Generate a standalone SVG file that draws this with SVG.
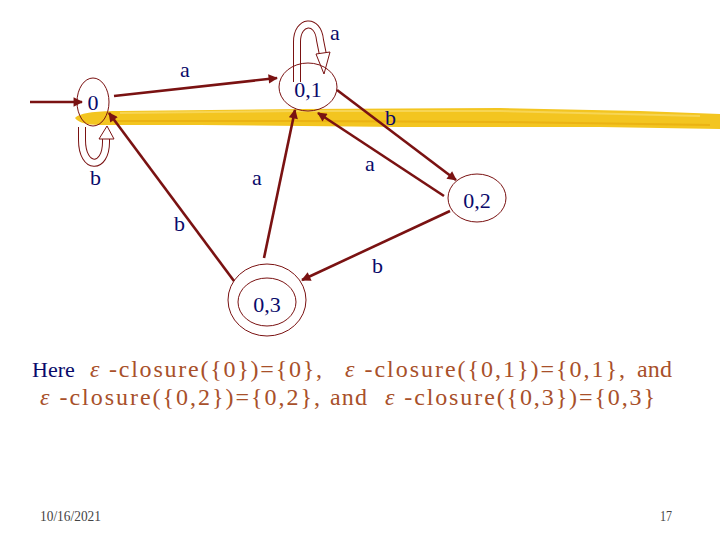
<svg xmlns="http://www.w3.org/2000/svg" width="720" height="540" viewBox="0 0 720 540">
<defs>
<marker id="ah" viewBox="0 0 10 10" refX="9" refY="5" markerWidth="4" markerHeight="3.6" orient="auto" markerUnits="strokeWidth">
<path d="M0,0 L10,5 L0,10 Z" fill="#7a1212"/>
</marker>
</defs>
<style>
.edge{stroke:#7a1212;stroke-width:2.6;fill:none;marker-end:url(#ah)}
.node{fill:none;stroke:#7a1212;stroke-width:1}
.lbl{font-family:"Liberation Serif",serif;font-size:22px;fill:#0a0a6a}
.nl{font-family:"Liberation Serif",serif;font-size:22px;fill:#0a0a6a;text-anchor:middle}
.eq{font-family:"Liberation Serif",serif;font-size:24px;fill:#a8502a}
.ep{font-style:italic}
.ft{font-family:"Liberation Serif",serif;font-size:14px;fill:#444}
.band{fill:none;stroke:#7a1212;stroke-width:8;stroke-linejoin:round}
.bandin{fill:none;stroke:#fff;stroke-width:6;stroke-linejoin:round}
.hh{fill:#fff;stroke:#7a1212;stroke-width:1}
</style>
<rect width="720" height="540" fill="#fff"/>
<g id="brush">
<path d="M75,118 C80,112 100,111 120,111 L300,109 L500,108 L640,111 L720,114 L720,129 L600,127 L400,127 L200,125 L100,125 C85,125 78,122 75,118 Z" fill="#f3c520"/>
<path d="M120,113 L300,111 L500,111 L700,116" stroke="#f8d860" stroke-width="2" fill="none" opacity="0.8"/>
<path d="M110,121 L300,121 L500,122 L710,125" stroke="#e8ae10" stroke-width="2" fill="none" opacity="0.8"/>
</g>
<g id="connectors">
<line class="edge" x1="30" y1="102" x2="82" y2="102"/>
<line class="edge" x1="114" y1="96" x2="277" y2="78"/>
<line class="edge" x1="337" y1="90" x2="456" y2="180"/>
<line class="edge" x1="444" y1="196" x2="318" y2="113"/>
<line class="edge" x1="450" y1="211" x2="302" y2="280"/>
<line class="edge" x1="234" y1="281" x2="109" y2="113"/>
<line class="edge" x1="264" y1="258" x2="295" y2="110"/>
<path class="band" d="M297,82 L297,42 C297,20 318,18 320,40 L323,55"/>
<path class="bandin" d="M297,82 L297,42 C297,20 318,18 320,40 L323,55"/>
<path class="hh" d="M316,54 L330,52 L324,74 Z"/>
<path class="band" d="M82,127 L82,140 C82,170 106,170 106,142 L106,139"/>
<path class="bandin" d="M82,127 L82,140 C82,170 106,170 106,142 L106,139"/>
<path class="hh" d="M99,139 L114,139 L107,126 Z"/>
</g>
<g id="n0">
<ellipse class="node" cx="93" cy="102" rx="16" ry="24"/>
<text class="nl" x="93" y="110">0</text>
</g>
<g id="n01">
<ellipse class="node" cx="308" cy="87" rx="29" ry="24"/>
<text class="nl" x="308" y="97">0,1</text>
</g>
<g id="n02">
<ellipse class="node" cx="477" cy="198" rx="29" ry="24"/>
<text class="nl" x="477" y="208">0,2</text>
</g>
<g id="n03">
<ellipse class="node" cx="267" cy="300" rx="39" ry="36"/>
<ellipse class="node" cx="267" cy="302" rx="29" ry="24"/>
<text class="nl" x="267" y="312">0,3</text>
</g>
<g id="labels">
<text class="lbl" x="180" y="77">a</text>
<text class="lbl" x="330" y="40">a</text>
<text class="lbl" x="90" y="185">b</text>
<text class="lbl" x="385" y="125">b</text>
<text class="lbl" x="365" y="171">a</text>
<text class="lbl" x="252" y="185">a</text>
<text class="lbl" x="174" y="231">b</text>
<text class="lbl" x="372" y="273">b</text>
</g>
<g id="text">
<text class="lbl" x="32" y="377">Here</text>
<text class="eq" x="90" y="377" textLength="232" lengthAdjust="spacing"><tspan class="ep">ε</tspan> -closure({0})={0},</text>
<text class="eq" x="345" y="377" textLength="280" lengthAdjust="spacing"><tspan class="ep">ε</tspan> -closure({0,1})={0,1},</text>
<text class="eq" x="637" y="377" textLength="35" lengthAdjust="spacing">and</text>
<text class="eq" x="40" y="405" textLength="280" lengthAdjust="spacing"><tspan class="ep">ε</tspan> -closure({0,2})={0,2},</text>
<text class="eq" x="330" y="405" textLength="37" lengthAdjust="spacing">and</text>
<text class="eq" x="385" y="405" textLength="270" lengthAdjust="spacing"><tspan class="ep">ε</tspan> -closure({0,3})={0,3}</text>
<text class="ft" x="40" y="521" textLength="61" lengthAdjust="spacingAndGlyphs">10/16/2021</text>
<text class="ft" x="660" y="521" textLength="12" lengthAdjust="spacingAndGlyphs">17</text>
</g>
</svg>
